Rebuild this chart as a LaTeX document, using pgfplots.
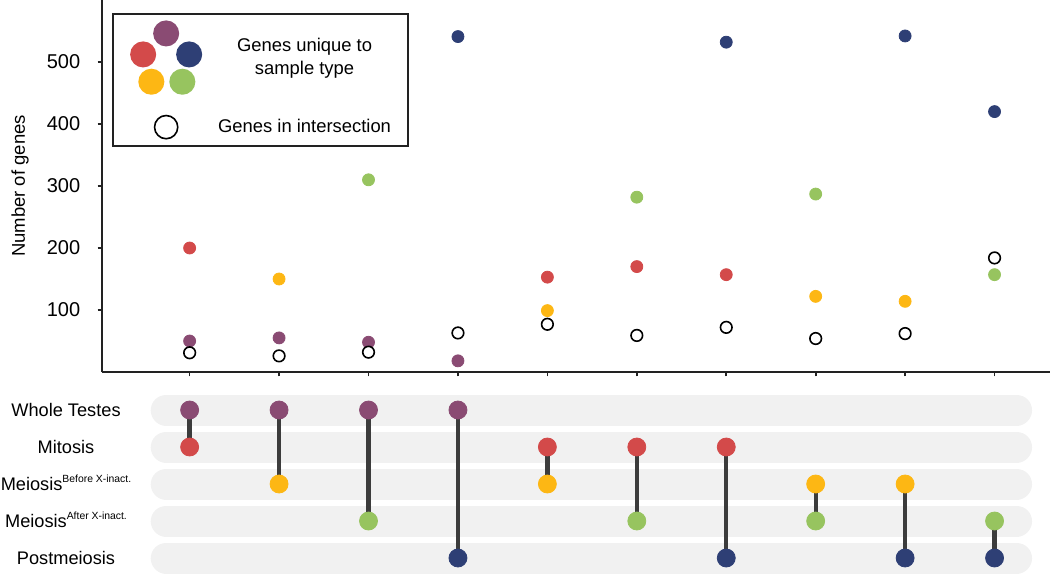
\documentclass[border=0pt]{standalone}
\usepackage{fontspec}
\setmainfont{Liberation Sans}
\usepackage{pgfplots}
\pgfplotsset{compat=1.18}

\definecolor{cWT}{HTML}{8A4B73}
\definecolor{cMit}{HTML}{D34A4A}
\definecolor{cMB}{HTML}{FDB714}
\definecolor{cMA}{HTML}{97C45F}
\definecolor{cPost}{HTML}{2E3F75}
\definecolor{barcol}{HTML}{F1F1F1}
\definecolor{linecol}{HTML}{3C3C3C}
\definecolor{axcol}{HTML}{222222}

\begin{document}
\begin{tikzpicture}
\useasboundingbox (0,0) rectangle (525pt,287.5pt);

% upper panel: gene counts
\begin{axis}[
    scale only axis, width=474pt, height=186pt,
    at={(51pt,287.5pt)}, anchor=north west,
    xmin=0.02, xmax=10.62, ymin=0, ymax=600,
    clip=false,
    axis lines=left,
    axis line style={-, line width=0.85pt, draw=axcol},
    xtick={1,...,10}, xticklabels={},
    ytick={100,200,300,400,500},
    tick align=outside, major tick length=2.2pt,
    tick style={line width=0.85pt, draw=axcol},
    /pgf/number format/assume math mode=true,
    yticklabel style={font=\fontsize{10}{12}\selectfont, inner sep=0pt, anchor=east, xshift=-8.5pt},
    ylabel={Number of genes},
    ylabel style={font=\fontsize{9.25}{11}\selectfont, at={(axis description cs:-0.0865,0.5)}, anchor=center},
    legend style={at={(0.0105,0.965)}, anchor=north west, draw=axcol, line width=1pt, fill=white,
        inner xsep=8.6pt, inner ysep=3.2pt, column sep=8pt, row sep=10pt,
        font=\fontsize{9.2}{11.7}\selectfont,
        nodes={inner sep=0pt, align=center, anchor=center}},
    legend cell align=center,
]
\addlegendimage{legend image code/.code={
    \fill[cWT] (0pt,12.15pt) circle (6pt);
    \fill[cMit] (-11.5pt,1.65pt) circle (6pt);
    \fill[cPost] (11.5pt,1.65pt) circle (6pt);
    \fill[cMB] (-7.4pt,-12pt) circle (6pt);
    \fill[cMA] (8.1pt,-12pt) circle (6pt);
}}
\addlegendentry{Genes unique to\\sample type}
\addlegendimage{legend image code/.code={
    \draw[black, line width=0.8pt, fill=white] (0pt,0pt) circle (5.8pt);
}}
\addlegendentry{Genes in intersection}

\addplot[forget plot, only marks, mark=*, mark size=3pt, color=cWT]
    coordinates {(1,50) (2,55) (3,48) (4,18)};
\addplot[forget plot, only marks, mark=*, mark size=3pt, color=cMit]
    coordinates {(1,200) (5,153) (6,170) (7,157)};
\addplot[forget plot, only marks, mark=*, mark size=3pt, color=cMB]
    coordinates {(2,150) (5,99) (8,122) (9,114)};
\addplot[forget plot, only marks, mark=*, mark size=3pt, color=cMA]
    coordinates {(3,310) (6,282) (8,287) (10,157)};
\addplot[forget plot, only marks, mark=*, mark size=3pt, color=cPost]
    coordinates {(4,541) (7,532) (9,542) (10,420)};
% intersections
\addplot[forget plot, only marks, mark=*, mark size=2.9pt, color=black, mark options={fill=white, line width=0.8pt}]
    coordinates {(1,31) (2,26) (3,32) (4,63) (5,77) (6,59) (7,72) (8,54) (9,62) (10,184)};
\end{axis}

% lower panel: set membership matrix
\begin{axis}[
    scale only axis, width=474pt, height=92.5pt,
    at={(51pt,91.75pt)}, anchor=north west,
    xmin=0.02, xmax=10.62, ymin=0.5, ymax=5.5, y dir=reverse,
    clip=false,
    axis line style={draw=none},
    xtick=\empty, ytick={1,2,3,4,5},
    major tick length=0pt, tick style={draw=none},
    yticklabels={Whole Testes, Mitosis,
        Meiosis\raisebox{4pt}{\fontsize{5.2}{6}\selectfont Before X-inact.},
        Meiosis\raisebox{4pt}{\fontsize{5.2}{6}\selectfont After X-inact.},
        Postmeiosis},
    yticklabel style={anchor=center, xshift=-18pt, inner sep=0pt, text height=6.5pt, text depth=0pt,
        font=\fontsize{9.1}{11}\selectfont},
    unbounded coords=jump,
]
\addplot[line width=15.5pt, line cap=round, draw=barcol] coordinates {(0.738,1) (10.246,1)};
\addplot[line width=15.5pt, line cap=round, draw=barcol] coordinates {(0.738,2) (10.246,2)};
\addplot[line width=15.5pt, line cap=round, draw=barcol] coordinates {(0.738,3) (10.246,3)};
\addplot[line width=15.5pt, line cap=round, draw=barcol] coordinates {(0.738,4) (10.246,4)};
\addplot[line width=15.5pt, line cap=round, draw=barcol] coordinates {(0.738,5) (10.246,5)};

\addplot[line width=2.15pt, draw=linecol] coordinates {
    (1,1) (1,2) (1,nan)
    (2,1) (2,3) (2,nan)
    (3,1) (3,4) (3,nan)
    (4,1) (4,5) (4,nan)
    (5,2) (5,3) (5,nan)
    (6,2) (6,4) (6,nan)
    (7,2) (7,5) (7,nan)
    (8,3) (8,4) (8,nan)
    (9,3) (9,5) (9,nan)
    (10,4) (10,5)
};

\addplot[only marks, mark=*, mark size=4.5pt, color=cWT]
    coordinates {(1,1) (2,1) (3,1) (4,1)};
\addplot[only marks, mark=*, mark size=4.5pt, color=cMit]
    coordinates {(1,2) (5,2) (6,2) (7,2)};
\addplot[only marks, mark=*, mark size=4.5pt, color=cMB]
    coordinates {(2,3) (5,3) (8,3) (9,3)};
\addplot[only marks, mark=*, mark size=4.5pt, color=cMA]
    coordinates {(3,4) (6,4) (8,4) (10,4)};
\addplot[only marks, mark=*, mark size=4.5pt, color=cPost]
    coordinates {(4,5) (7,5) (9,5) (10,5)};
\end{axis}
\end{tikzpicture}
\end{document}
